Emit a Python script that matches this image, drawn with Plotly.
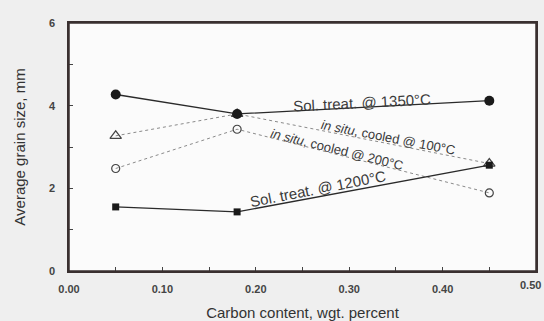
import plotly.graph_objects as go

carbon = [0.05, 0.18, 0.45]
sol_1350 = [4.27, 3.80, 4.12]
sol_1200 = [1.55, 1.43, 2.56]
situ_100 = [3.27, 3.80, 2.60]
situ_200 = [2.48, 3.43, 1.89]

x_ticks = [0.0, 0.1, 0.2, 0.3, 0.4, 0.5]
x_ticklabels = ["0.00", "0.10", "0.20", "0.30", "0.40", "0.50"]
y_ticks = [0, 2, 4, 6]

labels = ["Sol. treat. @ 1350°C", "<i>in situ</i>, cooled @ 100°C",
          "<i>in situ</i>, cooled @ 200°C", "Sol. treat. @ 1200°C"]

fig = go.Figure()
fig.add_trace(go.Scatter(x=carbon, y=situ_200, mode="lines+markers",
    line=dict(color="#8a8a8a", width=1, dash="dot"),
    marker=dict(symbol="circle-open", size=8, color="#444", line=dict(width=1.2))))
fig.add_trace(go.Scatter(x=carbon, y=situ_100, mode="lines+markers",
    line=dict(color="#8a8a8a", width=1, dash="dot"),
    marker=dict(symbol="triangle-up-open", size=10, color="#444", line=dict(width=1.2))))
fig.add_trace(go.Scatter(x=carbon, y=sol_1350, mode="lines+markers",
    line=dict(color="#2a2a2a", width=1.3),
    marker=dict(symbol="circle", size=10, color="#1a1a1a")))
fig.add_trace(go.Scatter(x=carbon, y=sol_1200, mode="lines+markers",
    line=dict(color="#2a2a2a", width=1.3),
    marker=dict(symbol="square", size=7, color="#1a1a1a")))

ann_pos = [(0.314, 4.08, -3), (0.342, 3.22, 11), (0.287, 2.95, 14), (0.267, 1.99, -11)]
ann_size = [15, 13, 13, 15]
for (ax_, ay_, ang), txt, sz in zip(ann_pos, labels, ann_size):
    fig.add_annotation(x=ax_, y=ay_, xref="x", yref="y", text=txt, showarrow=False,
                       textangle=ang, font=dict(family="Liberation Sans", size=sz, color="#3a3a3a"))

# last x tick label, kept inside the page at the right edge
fig.add_annotation(x=1, y=0, xref="paper", yref="paper", xanchor="right", yanchor="top",
                   xshift=7, yshift=-6, text=x_ticklabels[-1], showarrow=False,
                   font=dict(family="Liberation Sans", size=11, weight="bold", color="#444"))

fig.add_shape(type="rect", xref="paper", yref="paper", x0=0, y0=0, x1=1, y1=1,
              line=dict(color="#3a3030", width=1.5), layer="above")

fig.update_layout(
    width=544, height=321,
    margin=dict(l=69, r=8, t=23, b=50),
    paper_bgcolor="#efefef", plot_bgcolor="#fbfbfb",
    showlegend=False,
    font=dict(family="Liberation Sans", color="#333"),
)
fig.update_xaxes(range=[0, 0.5], tickvals=x_ticks, ticktext=x_ticklabels, automargin=False,
    ticks="inside", ticklen=4, tickcolor="#444", showgrid=False, zeroline=False,
    showline=True, linecolor="#3a3030", linewidth=1.5, mirror=True,
    tickfont=dict(size=11, family="Liberation Sans", weight="bold", color="#444"),
    ticklabelstandoff=7,
    minor=dict(ticks="inside", dtick=0.05, ticklen=4, tickcolor="#444"),
    title=dict(text="Carbon content, wgt. percent", font=dict(size=15, color="#333"), standoff=14))
fig.update_yaxes(range=[0, 6], tickvals=y_ticks, automargin=False,
    ticks="inside", ticklen=4, tickcolor="#444", showgrid=False, zeroline=False,
    showline=True, linecolor="#3a3030", linewidth=1.5, mirror=True,
    tickfont=dict(size=11, family="Liberation Sans", weight="bold", color="#444"),
    ticklabelstandoff=10,
    minor=dict(ticks="inside", dtick=1, ticklen=4, tickcolor="#444"),
    title=dict(text="Average grain size, mm", font=dict(size=15, color="#333"), standoff=20))

fig.write_html("out.html")
